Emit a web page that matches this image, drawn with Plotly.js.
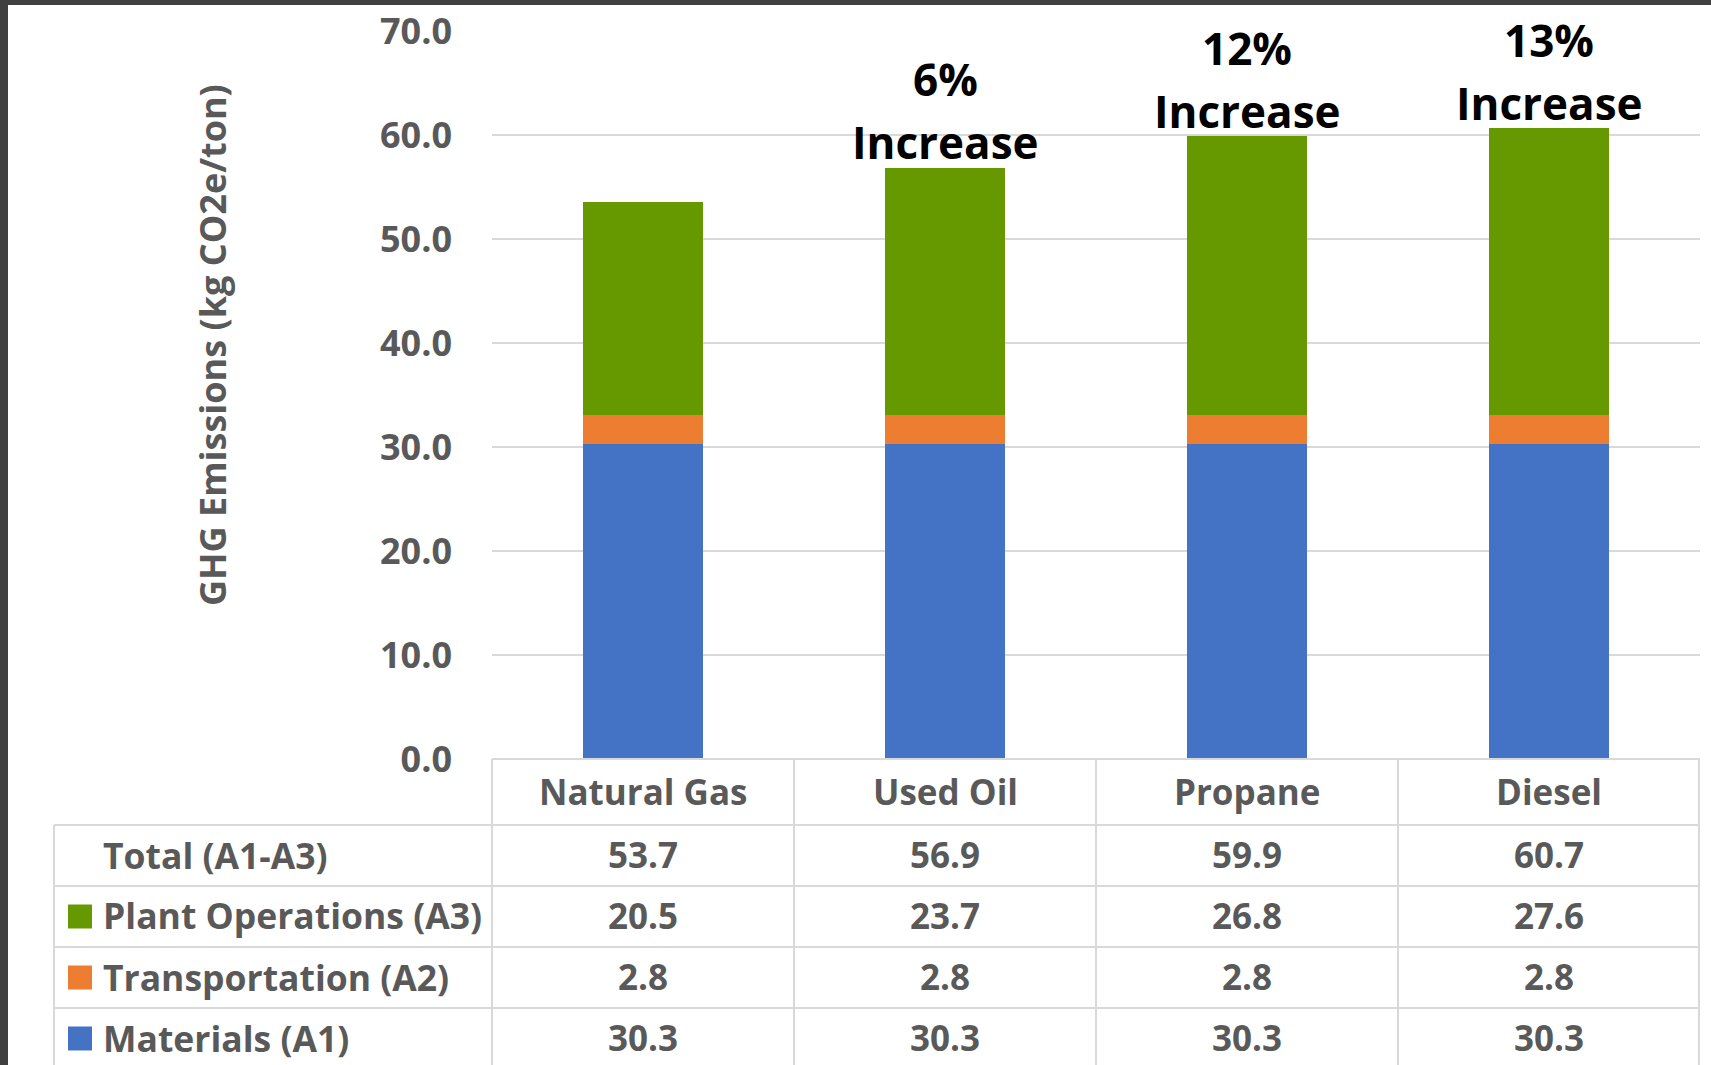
<!DOCTYPE html>
<html><head><meta charset="utf-8">
<script src="https://cdn.plot.ly/plotly-3.0.1.min.js"></script>
<style>
html,body{margin:0;padding:0;background:#404040;width:1711px;height:1065px;overflow:hidden}
#chart{position:absolute;left:8px;top:5px;width:1703px;height:1060px;background:#fff}
</style></head><body><div id="chart"></div>
<script>
// ---- data ----
const categories = ['Natural Gas', 'Used Oil', 'Propane', 'Diesel'];
const materialsA1 = [30.3, 30.3, 30.3, 30.3];
const transportA2 = [2.8, 2.8, 2.8, 2.8];
const plantOpsA3 = [20.5, 23.7, 26.8, 27.6];
const totals = [53.7, 56.9, 59.9, 60.7];
const increaseLabels = ['', '6%', '12%', '13%'];
const rowLabels = ['Total (A1-A3)', 'Plant Operations (A3)', 'Transportation (A2)', 'Materials (A1)'];
const yTicks = [0, 10, 20, 30, 40, 50, 60, 70];

// ---- styles ----
const C_A1 = '#4472C4', C_A2 = '#ED7D31', C_A3 = '#669900';
const GREY = '#595959', GRID = '#D9D9D9';
const FONT = '"Open Sans", "DejaVu Sans", sans-serif';

// page-pixel -> paper helpers (plot area spans x 492..1700, y 31..759 in page pixels)
const fx = p => (p - 492) / 1208;
const fy = p => (759 - p) / 728;

const traces = [
  {type: 'bar', name: 'Materials (A1)', x: categories, y: materialsA1, marker: {color: C_A1}},
  {type: 'bar', name: 'Transportation (A2)', x: categories, y: transportA2, marker: {color: C_A2}},
  {type: 'bar', name: 'Plant Operations (A3)', x: categories, y: plantOpsA3, marker: {color: C_A3}}
].map(t => Object.assign(t, {hoverinfo: 'skip'}));

const shapes = [];
const line = {color: GRID, width: 2};
// header top border (x-axis line)
shapes.push({type: 'line', xref: 'paper', yref: 'paper', x0: 0, x1: 1, y0: fy(759), y1: fy(759), line});
// row borders
[825, 886, 947, 1008].forEach(py => shapes.push({type: 'line', xref: 'paper', yref: 'paper', x0: fx(54), x1: fx(1700), y0: fy(py), y1: fy(py), line}));
// verticals
shapes.push({type: 'line', xref: 'paper', yref: 'paper', x0: fx(492), x1: fx(492), y0: fy(759), y1: fy(1070), line});
shapes.push({type: 'line', xref: 'paper', yref: 'paper', x0: fx(1699), x1: fx(1699), y0: fy(759), y1: fy(1070), line});
shapes.push({type: 'line', xref: 'paper', yref: 'paper', x0: fx(54), x1: fx(54), y0: fy(825), y1: fy(1070), line});
[0.5, 1.5, 2.5].forEach(xv => shapes.push({type: 'line', xref: 'x', yref: 'paper', x0: xv, x1: xv, y0: fy(759), y1: fy(1070), line}));
// legend keys
const rowCenters = [855.5, 916.5, 977.5, 1038.5];
[[1, C_A3], [2, C_A2], [3, C_A1]].forEach(([r, c]) => {
  const cy = rowCenters[r];
  shapes.push({type: 'rect', xref: 'paper', yref: 'paper', x0: fx(68), x1: fx(92), y0: fy(cy - 12), y1: fy(cy + 12), fillcolor: c, line: {width: 0}});
});

const annotations = [];
const tfont = {family: FONT, size: 35, color: GREY, weight: 'bold'};
categories.forEach((c, i) => {
  annotations.push({xref: 'x', yref: 'paper', x: c, y: fy(792), yshift: 1, text: c, showarrow: false, xanchor: 'center', yanchor: 'middle', font: tfont});
});
const rowData = [totals, plantOpsA3, transportA2, materialsA1];
rowData.forEach((arr, r) => {
  annotations.push({xref: 'paper', yref: 'paper', x: fx(101), y: fy(rowCenters[r]), yshift: 1, text: rowLabels[r], showarrow: false, xanchor: 'left', yanchor: 'middle',
    font: Object.assign({}, tfont, {size: 35.5})});
  arr.forEach((v, i) => {
    annotations.push({xref: 'x', yref: 'paper', x: categories[i], y: fy(rowCenters[r]), yshift: 1, text: v.toFixed(1), showarrow: false, xanchor: 'center', yanchor: 'middle', font: tfont});
  });
});
const incFont = {family: FONT, size: 44, color: '#000000', weight: 'bold'};
increaseLabels.forEach((lab, i) => {
  if (!lab) return;
  annotations.push({xref: 'x', yref: 'y', x: categories[i], y: totals[i], text: 'Increase', showarrow: false, xanchor: 'center', yanchor: 'bottom', yshift: -7, font: incFont});
  annotations.push({xref: 'x', yref: 'y', x: categories[i], y: totals[i], text: lab, showarrow: false, xanchor: 'center', yanchor: 'bottom', yshift: 56, font: incFont});
});
annotations.push({xref: 'paper', yref: 'paper', x: fx(212), y: fy(345), text: 'GHG Emissions (kg CO2e/ton)', textangle: -90, showarrow: false, xanchor: 'center', yanchor: 'middle',
  font: {family: FONT, size: 36, color: GREY, weight: 'bold'}});

const layout = {
  width: 1703, height: 1060,
  margin: {l: 484, r: 11, t: 26, b: 306, pad: 0},
  paper_bgcolor: '#ffffff', plot_bgcolor: '#ffffff',
  barmode: 'stack', bargap: 0.6,
  showlegend: false,
  xaxis: {type: 'category', range: [-0.5, 3.5], showticklabels: false, showgrid: false, zeroline: false, showline: false, ticks: ''},
  yaxis: {range: [0, 70], tickvals: yTicks, ticktext: yTicks.map(v => v.toFixed(1)), showgrid: true, gridcolor: GRID, gridwidth: 2,
    zeroline: false, showline: false, ticks: '', ticklabelstandoff: 39,
    tickfont: {family: FONT, size: 36, color: GREY, weight: 'bold'}},
  shapes, annotations
};
Plotly.newPlot('chart', traces, layout, {displayModeBar: false, staticPlot: true});
</script></body></html>
